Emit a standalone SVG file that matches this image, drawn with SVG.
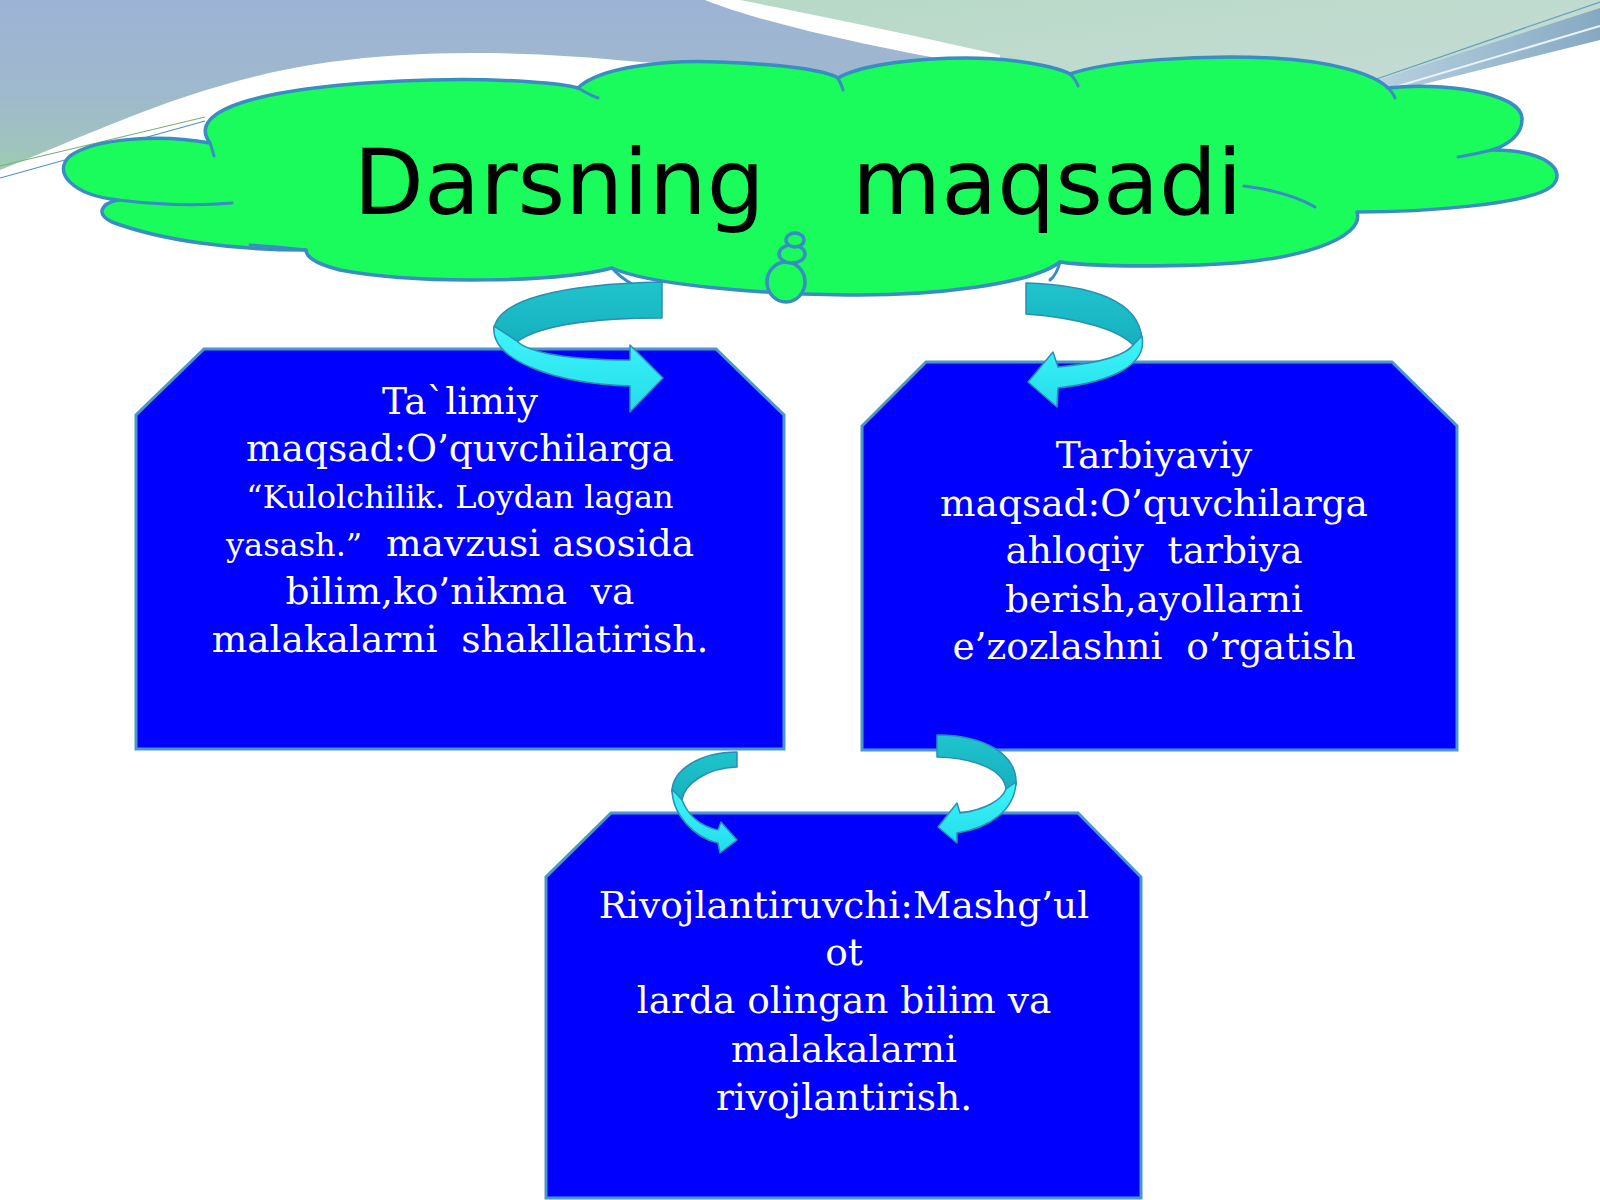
<svg xmlns="http://www.w3.org/2000/svg" width="1600" height="1200" viewBox="0 0 1600 1200">
<style>
.box{fill:#0000ff;stroke:#4a98c8;stroke-width:3}
.cloud{fill:#19fc5b;stroke:#3a8cc4;stroke-width:3.5;stroke-linejoin:round}
.crease{fill:none;stroke:#3a8cc4;stroke-width:3;stroke-linecap:round}
.back{fill:url(#gBack);stroke:#2a8fb4;stroke-width:1.5;stroke-linejoin:round}
.front{fill:url(#gFront);stroke:#2a8fb4;stroke-width:1.5;stroke-linejoin:round}
.t{font-family:"DejaVu Serif","Liberation Serif",serif;font-size:37.5px;fill:#ffffff;text-anchor:middle}
.s{font-size:32px}
.title{font-family:"DejaVu Sans","Liberation Sans",sans-serif;font-size:91.5px;fill:#000000;text-anchor:middle}
</style>
<defs>
<linearGradient id="gBlue" gradientUnits="userSpaceOnUse" x1="0" y1="0" x2="0" y2="175">
<stop offset="0" stop-color="#9db3d6"/>
<stop offset="0.55" stop-color="#9fb9cc"/>
<stop offset="0.8" stop-color="#a0c2c0"/>
<stop offset="1" stop-color="#9ccdb0"/>
</linearGradient>
<linearGradient id="gGreen" x1="0" y1="0" x2="1" y2="1">
<stop offset="0" stop-color="#b7d9c6"/>
<stop offset="1" stop-color="#c8dcd8"/>
</linearGradient>
<linearGradient id="gBand" x1="0" y1="0" x2="1" y2="0">
<stop offset="0" stop-color="#b8d0e0"/>
<stop offset="1" stop-color="#86a9c2"/>
</linearGradient>
<linearGradient id="gBack" x1="0" y1="0" x2="0" y2="1">
<stop offset="0" stop-color="#1fc4cc"/>
<stop offset="1" stop-color="#16b0c0"/>
</linearGradient>
<linearGradient id="gFront" x1="0" y1="0" x2="0" y2="1">
<stop offset="0" stop-color="#3ff6f8"/>
<stop offset="1" stop-color="#22dceb"/>
</linearGradient>
</defs>

<g id="background">
<rect x="0" y="0" width="1600" height="1200" fill="#ffffff"/>
<path d="M740,0 H1600 V10 L1377,80 L1377,110 L1000,110 L1000,55 C900,32 800,12 740,0 Z" fill="url(#gGreen)"/>
<path d="M0,0 H705 C760,22 860,45 990,68 L990,80 L800,76 C720,68 680,64 640,62 C520,50 420,50 330,62 C200,80 100,130 0,170 Z" fill="url(#gBlue)"/>
<path d="M1377,80 L1600,8 L1600,40 L1392,92 Z" fill="url(#gBand)"/>
<path d="M1362,84 L1600,2" stroke="#6aa0b8" stroke-width="1.2" fill="none"/>
<path d="M1385,90 L1600,26" stroke="#e8f2f8" stroke-width="2" fill="none"/>
<path d="M0,166 L205,117" stroke="#7ab070" stroke-width="1.2" fill="none"/>
<path d="M0,178 L205,121" stroke="#4a90c8" stroke-width="1.2" fill="none"/>
</g>

<g id="title-cloud">
<path class="cloud" d="M210,143 C185,110 260,85 430,80 C510,78 565,84 578,88 C600,66 670,60 718,62 C780,64 826,70 838,78 C862,64 920,58 966,58 C1012,58 1055,66 1070,74 C1110,60 1200,55 1272,58 C1332,61 1374,74 1388,88 C1440,82 1520,92 1522,118 C1523,136 1505,146 1492,150 C1545,150 1568,170 1552,186 C1530,205 1420,212 1357,212 C1365,238 1300,262 1200,265 C1130,267 1080,265 1060,262 C1030,285 930,296 847,295 C760,294 650,285 612,268 C560,282 420,285 340,270 C320,265 306,258 306,250 C230,250 160,240 112,222 C96,214 100,204 118,200 C72,195 52,172 70,156 C95,138 160,134 210,143 Z"/>
<path class="crease" d="M118,200 C160,205 200,206 232,203"/>
<path class="crease" d="M210,143 C212,148 213,152 214,156"/>
<path class="crease" d="M578,88 C585,92 592,96 598,98"/>
<path class="crease" d="M838,78 C840,82 842,86 843,90"/>
<path class="crease" d="M1070,74 C1074,78 1077,82 1078,86"/>
<path class="crease" d="M1388,88 C1392,92 1394,95 1395,98"/>
<path class="crease" d="M1492,150 C1480,153 1470,155 1458,157"/>
<path class="crease" d="M1244,186 C1275,190 1300,198 1315,207"/>
<path class="crease" d="M306,250 C290,248 270,246 250,245"/>
<path class="crease" d="M612,268 C618,275 625,280 632,284"/>
<path class="crease" d="M1060,262 C1058,270 1055,276 1050,280"/>
<ellipse class="cloud" cx="786" cy="282" rx="19" ry="20"/>
<ellipse class="cloud" cx="792" cy="254" rx="13" ry="9"/>
<ellipse class="cloud" cx="795" cy="240" rx="9" ry="7"/>
<text class="title" x="798" y="214" xml:space="preserve">Darsning   maqsadi</text>
</g>

<g id="box-talimiy">
<path class="box" d="M204,349 L716,349 L784,415 L784,749 L136,749 L136,415 Z"/>
<text class="t" x="460" y="414">Ta`limiy</text>
<text class="t" x="460" y="461">maqsad:O’quvchilarga</text>
<text class="t s" x="460" y="508">“Kulolchilik. Loydan lagan</text>
<text class="t" x="460" y="556" xml:space="preserve"><tspan class="s">yasash.”</tspan>  mavzusi asosida</text>
<text class="t" x="460" y="604" xml:space="preserve">bilim,ko’nikma  va</text>
<text class="t" x="460" y="652" xml:space="preserve">malakalarni  shakllatirish.</text>
</g>

<g id="box-tarbiyaviy">
<path class="box" d="M926,362 L1392,362 L1457,426 L1457,750 L862,750 L862,426 Z"/>
<text class="t" x="1154" y="468">Tarbiyaviy</text>
<text class="t" x="1154" y="516">maqsad:O’quvchilarga</text>
<text class="t" x="1154" y="563" xml:space="preserve">ahloqiy  tarbiya</text>
<text class="t" x="1154" y="612">berish,ayollarni</text>
<text class="t" x="1154" y="659" xml:space="preserve">e’zozlashni  o’rgatish</text>
</g>

<g id="box-rivojlantiruvchi">
<path class="box" d="M611,813 L1078,813 L1141,877 L1141,1198 L546,1198 L546,877 Z"/>
<text class="t" x="844" y="918">Rivojlantiruvchi:Mashg’ul</text>
<text class="t" x="844" y="965">ot</text>
<text class="t" x="844" y="1013">larda olingan bilim va</text>
<text class="t" x="844" y="1062">malakalarni</text>
<text class="t" x="844" y="1110">rivojlantirish.</text>
</g>

<g id="connectors">
<g id="arrow-1">
<path class="back" d="M662,282 L662,318 C600,318 540,324 517,342 L494,330 C496,300 560,284 662,282 Z"/>
<path class="front" d="M494,326 C490,362 560,384 630,386 L630,412 L663,378 L630,345 L630,360 C572,360 528,353 517,341 Z"/>
</g>
<g id="arrow-2">
<path class="back" d="M1026,283 C1090,285 1140,300 1142,340 L1134,346 C1120,330 1080,318 1026,314 Z"/>
<path class="front" d="M1142,336 C1148,366 1110,382 1058,388 L1057,407 L1028,382 L1053,352 L1058,367 C1100,363 1126,356 1134,344 Z"/>
</g>
<g id="arrow-3">
<path class="back" d="M737,752 C700,752 672,770 672,792 L682,800 C684,785 705,768 737,767 Z"/>
<path class="front" d="M672,789 C672,815 695,838 718,843 L720,853 L737,840 L721,822 L718,830 C700,826 688,815 682,800 Z"/>
</g>
<g id="arrow-4">
<path class="back" d="M937,735 C985,735 1018,755 1016,785 L1006,790 C1005,770 975,758 937,757 Z"/>
<path class="front" d="M1016,782 C1015,810 990,828 957,833 L957,843 L938,827 L957,803 L960,813 C985,810 1002,800 1006,789 Z"/>
</g>
</g>
</svg>
